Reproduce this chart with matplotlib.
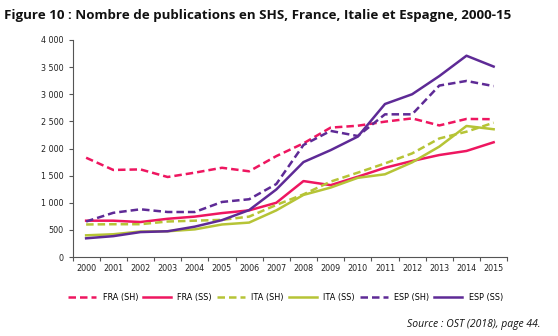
import numpy as np
import matplotlib.pyplot as plt

years = [str(y) for y in range(2000, 2016)]

fra_sh = [1830, 1605, 1615, 1475, 1555, 1645, 1580, 1860, 2095, 2385, 2420, 2495, 2555, 2425, 2545, 2540]
fra_ss = [670, 670, 645, 705, 745, 810, 860, 1000, 1400, 1325, 1480, 1645, 1770, 1880, 1955, 2115]
ita_sh = [600, 605, 605, 655, 670, 685, 745, 960, 1155, 1390, 1555, 1725, 1910, 2185, 2310, 2475]
ita_ss = [400, 420, 470, 475, 510, 600, 635, 860, 1145, 1280, 1460, 1525, 1745, 2035, 2415, 2355]
esp_sh = [655, 815, 880, 830, 830, 1015, 1065, 1345, 2065, 2325, 2230, 2630, 2630, 3160, 3245, 3150]
esp_ss = [345, 385, 460, 475, 560, 680, 865, 1245, 1750, 1970, 2220, 2820, 3000, 3335, 3710, 3510]

pink = '#ee1660'
green = '#b6c436'
purple = '#5e2a96'

series = [
    ('FRA (SH)', fra_sh, pink, (0, (3, 1.6))),
    ('FRA (SS)', fra_ss, pink, '-'),
    ('ITA (SH)', ita_sh, green, (0, (3, 1.6))),
    ('ITA (SS)', ita_ss, green, '-'),
    ('ESP (SH)', esp_sh, purple, (0, (3, 1.6))),
    ('ESP (SS)', esp_ss, purple, '-'),
]

fig = plt.figure(figsize=(5.58, 3.36), dpi=100)
ax = fig.add_axes([0.130, 0.235, 0.779, 0.646])

x = np.arange(len(years))
for name, vals, col, ls in series:
    ax.plot(x, vals, color=col, linestyle=ls, linewidth=1.8, label=name)

ax.set_xlim(-0.5, 15.5)
ax.set_ylim(0, 4000)
ax.set_yticks(np.arange(0, 4001, 500))
ax.set_yticklabels([f'{v:,}'.replace(',', ' ') for v in range(0, 4001, 500)])
ax.set_xticks(np.arange(-0.5, 16, 1))
ax.set_xticklabels([])
ax.set_xticks(x, minor=True)
ax.set_xticklabels(years, minor=True)
ax.tick_params(axis='x', which='major', length=3, width=0.8, color='#555555')
ax.tick_params(axis='x', which='minor', length=0, pad=5, labelsize=5.8, labelcolor='#222222')
ax.tick_params(axis='y', length=3, width=0.8, color='#555555', labelsize=5.8, labelcolor='#222222')
for s in ['top', 'right']:
    ax.spines[s].set_visible(False)
for s in ['left', 'bottom']:
    ax.spines[s].set_color('#555555')
    ax.spines[s].set_linewidth(0.8)

ax.legend(loc='upper center', bbox_to_anchor=(0.49, -0.13), ncol=6, frameon=False,
          fontsize=5.9, handlelength=3.4, handletextpad=0.8, columnspacing=0.6)

fig.text(0.008, 0.955, 'Figure 10 : Nombre de publications en SHS, France, Italie et Espagne, 2000-15',
         fontsize=9.65, fontweight='bold', family='Open Sans', color='#111111', va='center')
fig.text(0.968, 0.033, 'Source : OST (2018), page 44.', fontsize=7.5, style='italic',
         family='Open Sans', ha='right', va='center', color='#111111')

fig.savefig('out.png', dpi=100)
